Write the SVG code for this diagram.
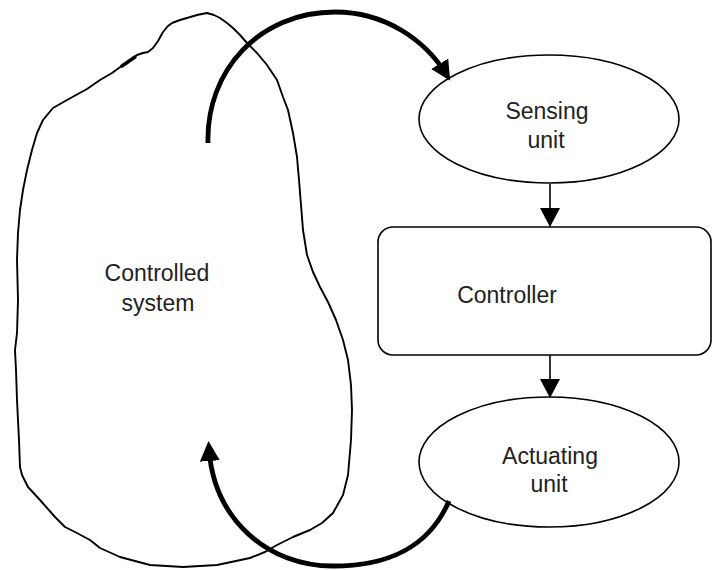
<svg xmlns="http://www.w3.org/2000/svg" width="712" height="570" viewBox="0 0 712 570">
<style>
  .lbl { font-family: "Liberation Sans", Arial, sans-serif; font-size: 23px; fill: #222; text-anchor: middle; }
  .shape { fill: none; stroke: #000; stroke-width: 1.6; }
  .blob { fill: none; stroke: #000; stroke-width: 1.9; stroke-linejoin: round; stroke-linecap: round; }
  .thin { fill: none; stroke: #000; stroke-width: 1.6; }
  .thick { fill: none; stroke: #000; stroke-width: 4.8; }
</style>
<defs>
  <marker id="ah" markerUnits="userSpaceOnUse" markerWidth="20" markerHeight="20" refX="12" refY="10" orient="auto">
    <path d="M0,0 L20,10 L0,20 Z" fill="#000"/>
  </marker>
  <marker id="ahs" markerUnits="userSpaceOnUse" markerWidth="20" markerHeight="20" refX="18" refY="10" orient="auto">
    <path d="M0,0 L19,10 L0,20 Z" fill="#000"/>
  </marker>
</defs>
<rect width="712" height="570" fill="#fff"/>

<g id="controlled-system">
  <path class="blob" d="M207,13 L214,15 L220,18 L227,23 L233,28 L240,35 L247,43 L257,53 L267,65 L277,80 L283,97 L288,110 L293,133 L297,157 L299,180 L301,205 L303,230 L307,255 L313,272 L320,287 L328,302 L336,320 L343,340 L348,360 L351,385 L352,410 L351,440 L348,475 L343,495 L333,513 L322,523 L310,530 L293,537 L277,545 L265,552 L250,558 L217,565 L183,567 L150,565 L120,557 L100,548 L90,540 L75,532 L65,527 L55,517 L40,500 L28,487 L22,475 L20,467 L19,440 L17,400 L16,370 L15,350 L17,333 L18,300 L17,260 L18,233 L20,210 L23,190 L27,170 L32,150 L37,133 L43,120 L53,108 L67,100 L87,89 L100,80 L112,73 L123,65 L130,60 L137,55 L143,53 L148,52 L153,48 L158,41 L163,32 L168,26 L172,23 L180,20 L187,18 L197,15 Z"/>
  <path d="M122,66 L135,57" fill="none" stroke="#000" stroke-width="3.5" stroke-linecap="round"/>
  <text class="lbl" x="157" y="281">Controlled</text>
  <text class="lbl" x="158" y="311">system</text>
</g>

<g id="sensing-unit">
  <ellipse class="shape" cx="549" cy="119" rx="130" ry="64"/>
  <text class="lbl" x="547" y="119">Sensing</text>
  <text class="lbl" x="546" y="148">unit</text>
</g>

<g id="controller">
  <rect class="shape" x="378" y="227" width="333" height="128" rx="15" ry="15"/>
  <text class="lbl" x="507" y="303">Controller</text>
</g>

<g id="actuating-unit">
  <ellipse class="shape" cx="549" cy="462" rx="130" ry="65"/>
  <text class="lbl" x="550" y="464">Actuating</text>
  <text class="lbl" x="549" y="492">unit</text>
</g>

<g id="connectors">
  <path class="thick" d="M208,143 C206,70 260,12 335,12 C385,12 425,40 446,74" marker-end="url(#ah)"/>
  <line class="thin" x1="550" y1="184" x2="550" y2="226" marker-end="url(#ahs)"/>
  <line class="thin" x1="550" y1="355" x2="550" y2="397" marker-end="url(#ahs)"/>
  <path class="thick" d="M449,501 C430,545 392,566 333,566 C268,566 214,520 209,449" marker-end="url(#ah)"/>
</g>
</svg>
